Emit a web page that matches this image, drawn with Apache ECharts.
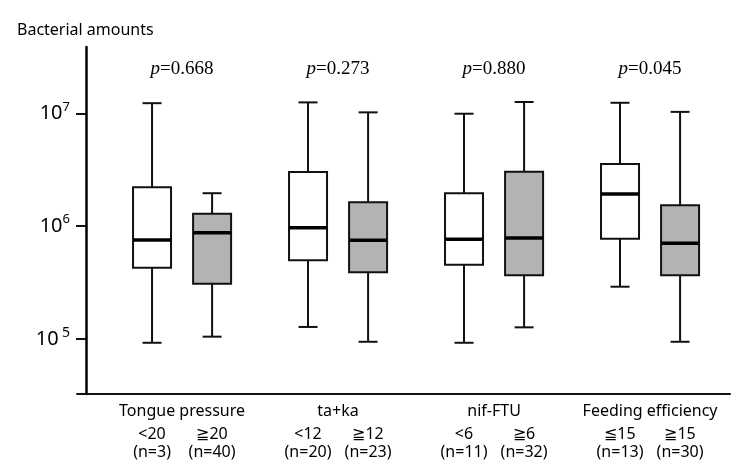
<!DOCTYPE html>
<html><head><meta charset="utf-8">
<script src="https://cdn.jsdelivr.net/npm/echarts@6/dist/echarts.min.js"></script>
<style>html,body{margin:0;padding:0;background:#fff}#c{width:750px;height:474px}</style>
</head><body><div id="c"></div>
<script>
// ---- data ----
const groupNames = ['Tongue pressure', 'ta+ka', 'nif-FTU', 'Feeding efficiency'];
const pValues = ['0.668', '0.273', '0.880', '0.045'];
const subLabels = ['<20', '≧20', '<12', '≧12', '<6', '≧6', '≦15', '≧15'];
const nLabels = ['(n=3)', '(n=40)', '(n=20)', '(n=23)', '(n=11)', '(n=32)', '(n=13)', '(n=30)'];
const whiskerLow  = [9.27e4, 1.05e5, 1.28e5, 9.46e4, 9.27e4, 1.27e5, 2.91e5, 9.46e4];
const q1          = [4.28e5, 3.09e5, 4.98e5, 3.90e5, 4.55e5, 3.67e5, 7.74e5, 3.67e5];
const median      = [7.54e5, 8.75e5, 9.69e5, 7.49e5, 7.65e5, 7.85e5, 1.93e6, 7.05e5];
const q3          = [2.21e6, 1.29e6, 3.02e6, 1.63e6, 1.96e6, 3.04e6, 3.55e6, 1.53e6];
const whiskerHigh = [1.23e7, 1.96e6, 1.25e7, 1.02e7, 9.92e6, 1.26e7, 1.24e7, 1.03e7];
const yTicks = [1e5, 1e6, 1e7];

// ---- layout / style ----
const SUB_OFFSET = 0.385;      // distance between the two boxes of a group (in group units)
const X_MIN = -0.481, X_MAX = 3.705;
const BOX_W = 38, CAP_W = 19;
const boxFills = ['#ffffff', '#b3b3b3'];
const SANS = 'Noto Sans';

const boxPositions = subLabels.map((_, i) => Math.floor(i / 2) + (i % 2) * SUB_OFFSET);
const groupCenters = groupNames.map((_, g) => g + SUB_OFFSET / 2);
const idxOf = (arr, v) => arr.findIndex(p => Math.abs(p - v) < 1e-6);

const boxData = boxPositions.map((x, i) => [x, whiskerLow[i], q1[i], median[i], q3[i], whiskerHigh[i]]);

function renderItem(params, api) {
  const x = api.value(0);
  const lo = api.coord([x, api.value(1)]);
  const b1 = api.coord([x, api.value(2)]);
  const md = api.coord([x, api.value(3)]);
  const b3 = api.coord([x, api.value(4)]);
  const hi = api.coord([x, api.value(5)]);
  const cx = lo[0];
  const ln = { stroke: '#111', lineWidth: 2 };
  return {
    type: 'group',
    children: [
      { type: 'line', shape: { x1: cx, y1: hi[1], x2: cx, y2: b3[1] }, style: ln },
      { type: 'line', shape: { x1: cx, y1: b1[1], x2: cx, y2: lo[1] }, style: ln },
      { type: 'line', shape: { x1: cx - CAP_W / 2, y1: hi[1], x2: cx + CAP_W / 2, y2: hi[1] }, style: ln },
      { type: 'line', shape: { x1: cx - CAP_W / 2, y1: lo[1], x2: cx + CAP_W / 2, y2: lo[1] }, style: ln },
      { type: 'rect', shape: { x: cx - BOX_W / 2, y: b3[1], width: BOX_W, height: b1[1] - b3[1] },
        style: { fill: boxFills[params.dataIndex % 2], stroke: '#111', lineWidth: 2 } },
      { type: 'line', shape: { x1: cx - BOX_W / 2, y1: md[1], x2: cx + BOX_W / 2, y2: md[1] },
        style: { stroke: '#000', lineWidth: 3.5 } }
    ]
  };
}

const baseX = {
  type: 'value', min: X_MIN, max: X_MAX, gridIndex: 0,
  splitLine: { show: false }, axisTick: { show: false }
};

const chart = echarts.init(document.getElementById('c'));
chart.setOption({
  animation: false,
  backgroundColor: '#fff',
  title: {
    text: 'Bacterial amounts', left: 17, top: 21, padding: 0,
    textStyle: { fontFamily: SANS, fontSize: 16, fontWeight: 'normal', color: '#000', lineHeight: 18 }
  },
  grid: { left: 77, right: 20, top: 47, bottom: 80 },
  xAxis: [
    Object.assign({}, baseX, {
      position: 'bottom',
      axisLine: { show: true, onZero: false, lineStyle: { color: '#111', width: 2 } },
      axisLabel: {
        customValues: boxPositions, margin: 31, interval: 0,
        fontFamily: SANS, fontSize: 16, color: '#000', lineHeight: 18,
        formatter: v => { const i = idxOf(boxPositions, v); return i < 0 ? '' : subLabels[i] + '\n' + nLabels[i]; }
      }
    }),
    Object.assign({}, baseX, {
      position: 'bottom',
      axisLine: { show: false },
      axisLabel: {
        customValues: groupCenters, margin: 8, interval: 0,
        fontFamily: SANS, fontSize: 16, color: '#000', lineHeight: 18,
        formatter: v => { const g = idxOf(groupCenters, v); return g < 0 ? '' : groupNames[g]; }
      }
    }),
    Object.assign({}, baseX, {
      position: 'top',
      axisLine: { show: false },
      axisLabel: {
        customValues: groupCenters, inside: true, margin: 12, interval: 0,
        formatter: v => { const g = idxOf(groupCenters, v); return g < 0 ? '' : '{i|p}{n|=' + pValues[g] + '}'; },
        rich: {
          i: { fontFamily: 'Liberation Serif', fontStyle: 'italic', fontSize: 19, color: '#000', lineHeight: 20 },
          n: { fontFamily: 'Liberation Serif', fontSize: 19, color: '#000', lineHeight: 20 }
        }
      }
    })
  ],
  yAxis: {
    type: 'log', logBase: 10, min: 3.26e4, max: 3.87e7, offset: -9,
    splitLine: { show: false }, minorTick: { show: false },
    axisLine: { show: true, onZero: false, lineStyle: { color: '#000', width: 2.5 } },
    axisTick: { show: true, length: 10, customValues: yTicks, lineStyle: { color: '#111', width: 2 } },
    axisLabel: {
      customValues: yTicks, margin: 16,
      formatter: v => {
        const e = Math.round(Math.log10(v));
        return e === 5 ? '{b|10} {t|' + e + '}' : '{b|10}{s|' + e + '}';
      },
      rich: {
        b: { fontFamily: SANS, fontSize: 20, color: '#000', lineHeight: 26 },
        s: { fontFamily: SANS, fontSize: 13, color: '#000', lineHeight: 13, verticalAlign: 'top' },
        t: { fontFamily: SANS, fontSize: 14, color: '#000', lineHeight: 18, verticalAlign: 'top' }
      }
    }
  },
  series: [{
    type: 'custom',
    renderItem: renderItem,
    clip: false,
    encode: { x: 0, y: [1, 2, 3, 4, 5] },
    data: boxData
  }]
});
</script>
</body></html>
